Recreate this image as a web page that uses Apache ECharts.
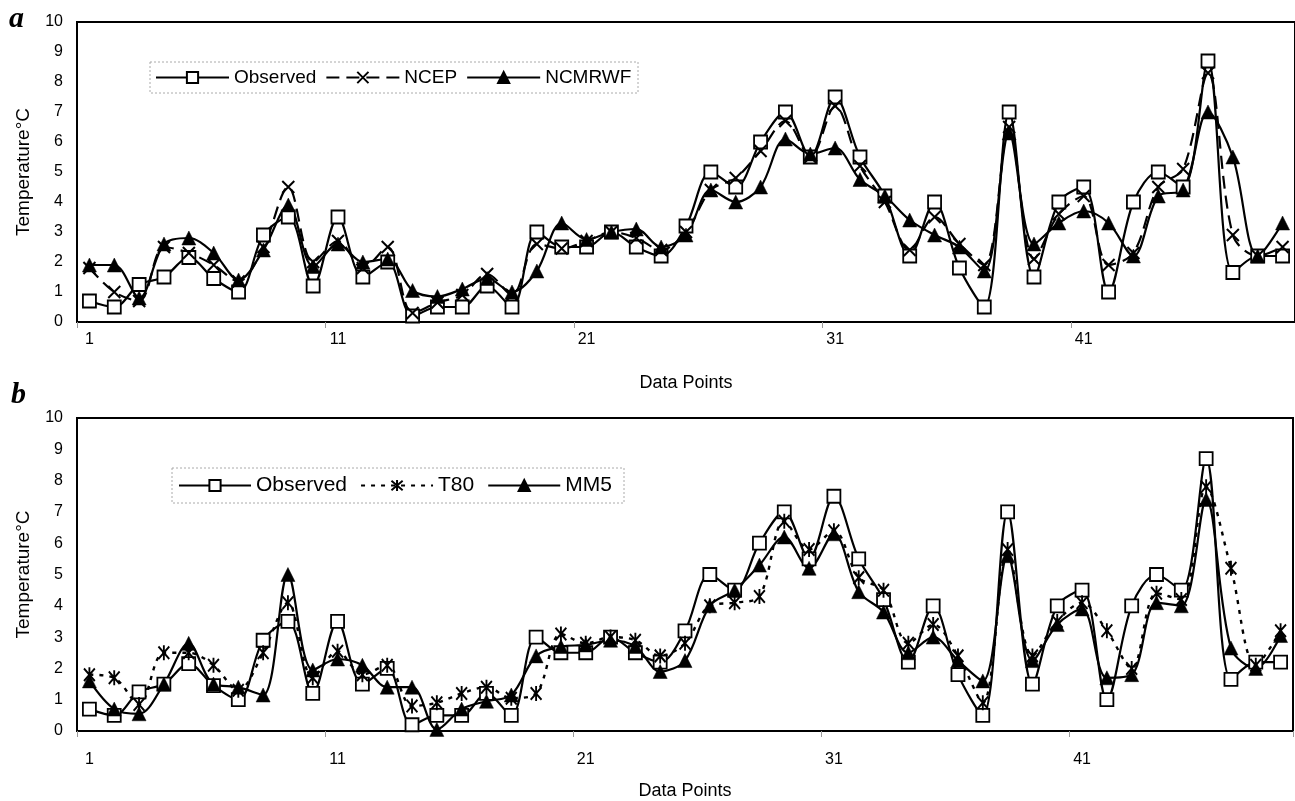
<!DOCTYPE html>
<html>
<head>
<meta charset="utf-8">
<script src="https://cdn.jsdelivr.net/npm/echarts@6/dist/echarts.min.js"></script>
<style>
html,body{margin:0;padding:0;background:#fff;}
#chart{width:1295px;height:801px;}
</style>
</head>
<body>
<div id="chart"></div>
<script>
// ---- data ----
const categories = [];
for (let i = 1; i <= 49; i++) categories.push(String(i));

const observed = [0.7,0.5,1.25,1.5,2.15,1.45,1.0,2.9,3.5,1.2,3.5,1.5,2.0,0.2,0.5,0.5,1.2,0.5,3.0,2.5,
  2.5,3.0,2.5,2.2,3.2,5.0,4.5,6.0,7.0,5.5,7.5,5.5,4.2,2.2,4.0,1.8,0.5,7.0,1.5,4.0,
  4.5,1.0,4.0,5.0,4.5,8.7,1.65,2.2,2.2];
const ncep = [1.8,1.0,0.7,2.5,2.3,1.9,1.35,2.5,4.5,2.0,2.7,1.8,2.5,0.3,0.65,0.9,1.6,0.9,2.6,2.45,
  2.7,3.0,2.8,2.4,3.0,4.4,4.8,5.7,6.7,5.5,7.2,5.2,4.0,2.4,3.5,2.6,1.9,6.5,2.1,3.6,
  4.2,1.9,2.3,4.5,5.1,8.3,2.9,2.2,2.5];
const ncmrwf = [1.9,1.9,0.8,2.6,2.8,2.3,1.4,2.4,3.9,1.85,2.6,2.0,2.1,1.05,0.85,1.1,1.45,1.0,1.7,3.3,
  2.75,3.0,3.1,2.5,2.9,4.4,4.0,4.5,6.1,5.6,5.8,4.75,4.2,3.4,2.9,2.5,1.7,6.3,2.6,3.3,
  3.7,3.3,2.2,4.2,4.4,7.0,5.5,2.2,3.3];
const t80 = [1.8,1.7,0.85,2.5,2.5,2.1,1.3,2.5,4.1,1.7,2.55,1.8,2.1,0.8,0.9,1.2,1.4,1.05,1.2,3.1,
  2.8,3.0,2.9,2.4,2.8,4.0,4.1,4.3,6.7,5.8,6.4,4.9,4.5,2.8,3.4,2.4,0.9,5.8,2.4,3.5,
  4.1,3.2,2.0,4.4,4.2,7.8,5.2,2.1,3.2];
const mm5 = [1.6,0.7,0.55,1.5,2.8,1.5,1.4,1.15,5.0,1.95,2.3,2.1,1.4,1.4,0.05,0.7,0.95,1.15,2.4,2.7,
  2.75,2.9,2.7,1.9,2.25,4.0,4.5,5.3,6.2,5.2,6.3,4.45,3.8,2.5,3.0,2.25,1.6,5.6,2.25,3.4,
  3.9,1.7,1.8,4.1,4.0,7.4,2.65,2.0,3.05];
const yTicks = [0,1,2,3,4,5,6,7,8,9,10];

// ---- styles ----
const FONT = 'Liberation Sans, Arial, sans-serif';
const crossPath = 'path://M0,0L10,10M10,0L0,10';
const starPath = 'path://M0,1L10,11M10,1L0,11M5,0L5,12';

function xAxisFor(gi, labelMargin, nameGap) {
  return {
    type: 'category', gridIndex: gi, data: categories, boundaryGap: true,
    name: 'Data Points', nameLocation: 'middle', nameGap: nameGap,
    nameTextStyle: {fontFamily: FONT, fontSize: 18, color: '#000'},
    axisLine: {show: true, lineStyle: {color: '#000', width: 2}},
    axisTick: {show: true, interval: 9, length: 6, lineStyle: {color: '#999', width: 1}},
    axisLabel: {interval: 9, margin: labelMargin, fontFamily: FONT, fontSize: 16, color: '#000'},
    splitLine: {show: false}
  };
}
function yAxisFor(gi) {
  return {
    type: 'value', gridIndex: gi, min: yTicks[0], max: yTicks[yTicks.length - 1], interval: 1,
    name: 'Temperature°C', nameLocation: 'middle', nameGap: 44, nameRotate: 90,
    nameTextStyle: {fontFamily: FONT, fontSize: 19, color: '#000'},
    axisLine: {show: true, lineStyle: {color: '#000', width: 2}},
    axisTick: {show: false},
    axisLabel: {margin: 14, fontFamily: FONT, fontSize: 16, color: '#000'},
    splitLine: {show: false}
  };
}
function obsSeries(gi) {
  return {
    name: 'Observed', type: 'line', xAxisIndex: gi, yAxisIndex: gi, data: observed,
    smooth: 0.33, symbol: 'rect', symbolSize: 13, showAllSymbol: true,
    lineStyle: {color: '#000', width: 2.2},
    itemStyle: {color: '#fff', borderColor: '#000', borderWidth: 1.8}
  };
}
function triSeries(name, gi, data) {
  return {
    name: name, type: 'line', xAxisIndex: gi, yAxisIndex: gi, data: data,
    smooth: 0.33, symbol: 'triangle', symbolSize: 14, showAllSymbol: true,
    lineStyle: {color: '#000', width: 2.2},
    itemStyle: {color: '#000', borderColor: '#000', borderWidth: 0.5}
  };
}

const option = {
  animation: false,
  backgroundColor: '#fff',
  grid: [
    {left: 77, top: 22, width: 1225, height: 300, show: true, borderColor: '#000', borderWidth: 2, backgroundColor: 'transparent'},
    {left: 77, top: 418, width: 1216, height: 314, show: true, borderColor: '#000', borderWidth: 2, backgroundColor: 'transparent'}
  ],
  xAxis: [xAxisFor(0, 10, 52), xAxisFor(1, 21, 51)],
  yAxis: [yAxisFor(0), yAxisFor(1)],
  legend: [
    {
      left: 155, top: 68, orient: 'horizontal', padding: 0,
      itemWidth: 73, itemHeight: 14, itemGap: 9,
      textStyle: {fontFamily: FONT, fontSize: 19, color: '#000'},
      data: ['Observed', 'NCEP', 'NCMRWF']
    },
    {
      left: 178, top: 475, orient: 'horizontal', padding: 0,
      itemWidth: 72, itemHeight: 14, itemGap: 13,
      textStyle: {fontFamily: FONT, fontSize: 21, color: '#000'},
      data: ['Observed', 'T80', 'MM5']
    }
  ],
  graphic: [
    {type: 'rect', shape: {x: 150, y: 62, width: 488, height: 31}, style: {fill: 'none', stroke: '#aaa', lineWidth: 1, lineDash: [2, 2]}, silent: true, z: 0},
    {type: 'rect', shape: {x: 172, y: 468, width: 452, height: 35}, style: {fill: 'none', stroke: '#aaa', lineWidth: 1, lineDash: [2, 2]}, silent: true, z: 0},
    {type: 'text', left: 9, top: 4, style: {text: 'a', font: 'italic bold 30px "Liberation Serif", "DejaVu Serif", serif', fill: '#000'}},
    {type: 'text', left: 11, top: 380, style: {text: 'b', font: 'italic bold 30px "Liberation Serif", "DejaVu Serif", serif', fill: '#000'}}
  ],
  series: [
    obsSeries(0),
    {
      name: 'NCEP', type: 'line', xAxisIndex: 0, yAxisIndex: 0, data: ncep,
      smooth: 0.33, symbol: crossPath, symbolSize: 12, symbolKeepAspect: true, showAllSymbol: true,
      lineStyle: {color: '#000', width: 2.2, type: [13, 7]},
      itemStyle: {color: '#000', borderColor: '#000', borderWidth: 2}
    },
    triSeries('NCMRWF', 0, ncmrwf),
    obsSeries(1),
    {
      name: 'T80', type: 'line', xAxisIndex: 1, yAxisIndex: 1, data: t80,
      smooth: 0.33, symbol: starPath, symbolSize: [13, 15], symbolKeepAspect: true, showAllSymbol: true,
      lineStyle: {color: '#000', width: 2.4, type: [4, 6]},
      itemStyle: {color: '#000', borderColor: '#000', borderWidth: 2}
    },
    triSeries('MM5', 1, mm5)
  ]
};

const chart = echarts.init(document.getElementById('chart'), null, {renderer: 'canvas'});
chart.setOption(option);
</script>
</body>
</html>
